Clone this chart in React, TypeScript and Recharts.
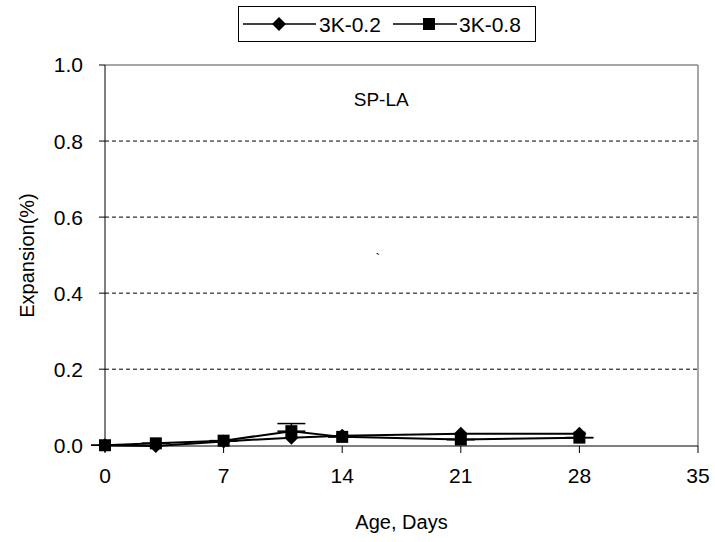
import {
  ErrorBar,
  LineChart,
  Line,
  CartesianGrid,
  ReferenceDot,
  ReferenceLine,
  XAxis,
  YAxis,
  Legend,
} from "recharts";

const days = [0, 3, 7, 11, 14, 21, 28];
const exp02 = [0.0, -0.002, 0.01, 0.02, 0.025, 0.03, 0.03];
const exp08 = [0.0, 0.005, 0.012, 0.037, 0.022, 0.015, 0.02];
const err08 = [0, 0, 0, 0.02, 0, 0, 0];
const xTicks = [0, 7, 14, 21, 28, 35];
const yTicks = [0, 0.2, 0.4, 0.6, 0.8, 1.0];

const data = days.map((d, i) => ({
  day: d,
  s02: exp02[i],
  s08: exp08[i],
  e08: [0, err08[i]],
}));

const font = "'Liberation Sans', Arial, sans-serif";

const Diamond = (props: any) => {
  const { cx, cy } = props;
  if (cx == null || cy == null) return null;
  const r = 7;
  return (
    <path
      d={`M${cx},${cy - r}L${cx + r},${cy}L${cx},${cy + r}L${cx - r},${cy}Z`}
      fill="#000"
    />
  );
};

const Square = (props: any) => {
  const { cx, cy } = props;
  if (cx == null || cy == null) return null;
  return <rect x={cx - 6} y={cy - 6} width={12} height={12} fill="#000" />;
};

const LegendBox = () => (
  <div
    style={{
      border: "1px solid #000",
      width: 298,
      height: 36,
      boxSizing: "border-box",
      background: "#fff",
    }}
  >
    <svg width={296} height={34} style={{ display: "block" }}>
      <line x1={4} x2={77} y1={17} y2={17} stroke="#000" strokeWidth={1.5} />
      <path d="M40,10L47,17L40,24L33,17Z" fill="#000" />
      <text x={80} y={25} fontSize={21} fontFamily={font}>3K-0.2</text>
      <line x1={154} x2={218} y1={17} y2={17} stroke="#000" strokeWidth={1.5} />
      <rect x={184} y={11} width={12} height={12} fill="#000" />
      <text x={220} y={25} fontSize={21} fontFamily={font}>3K-0.8</text>
    </svg>
  </div>
);

export default function App() {
  return (
    <div style={{ position: "absolute", left: 0, top: 0, background: "#fff" }}>
      <LineChart
        width={715}
        height={542}
        data={data}
        margin={{ top: 65, right: 17, bottom: 16, left: 45 }}
      >
        <CartesianGrid
          horizontal
          vertical={false}
          horizontalValues={[0.2, 0.4, 0.6, 0.8]}
          stroke="#000"
          strokeDasharray="4 3"
        />
        <XAxis
          dataKey="day"
          type="number"
          domain={[0, 35]}
          ticks={xTicks}
          stroke="#000"
          tickSize={7}
          tickMargin={15}
          height={80}
          tick={{ fill: "#000", fontSize: 21, fontFamily: font }}
          label={{
            value: "Age, Days",
            position: "insideBottom",
            offset: -3,
            fill: "#000",
            fontSize: 20,
            fontFamily: font,
          }}
        />
        <YAxis
          type="number"
          domain={[0, 1]}
          ticks={yTicks}
          tickFormatter={(v: number) => v.toFixed(1)}
          stroke="#000"
          tickSize={6}
          tickMargin={16}
          width={60}
          tick={{ fill: "#000", fontSize: 21, fontFamily: font }}
          label={{
            value: "Expansion(%)",
            angle: -90,
            position: "insideLeft",
            offset: -18,
            style: { textAnchor: "middle" },
            fill: "#000",
            fontSize: 20,
            fontFamily: font,
          }}
        />
        <ReferenceLine y={1} stroke="#888" strokeWidth={1.5} />
        <ReferenceLine x={35} stroke="#888" strokeWidth={1.5} />
        <Legend
          verticalAlign="middle"
          content={<LegendBox />}
          wrapperStyle={{ top: 6, left: 238, width: 298 }}
        />
        <ReferenceDot
          x={16.3}
          y={0.91}
          r={0}
          label={{ value: "SP-LA", fill: "#000", fontSize: 19, fontFamily: font }}
        />
        <ReferenceDot
          x={16.1}
          y={0.49}
          r={0}
          label={{ value: "`", fill: "#000", fontSize: 14, fontFamily: font }}
        />
        <Line
          dataKey="s02"
          name="3K-0.2"
          stroke="#000"
          strokeWidth={2}
          dot={<Diamond />}
          isAnimationActive={false}
        />
        <Line
          dataKey="s08"
          name="3K-0.8"
          stroke="#000"
          strokeWidth={2}
          dot={<Square />}
          isAnimationActive={false}
        >
          <ErrorBar dataKey="e08" direction="y" stroke="#000" strokeWidth={1.5} width={14} />
        </Line>
      </LineChart>
    </div>
  );
}
